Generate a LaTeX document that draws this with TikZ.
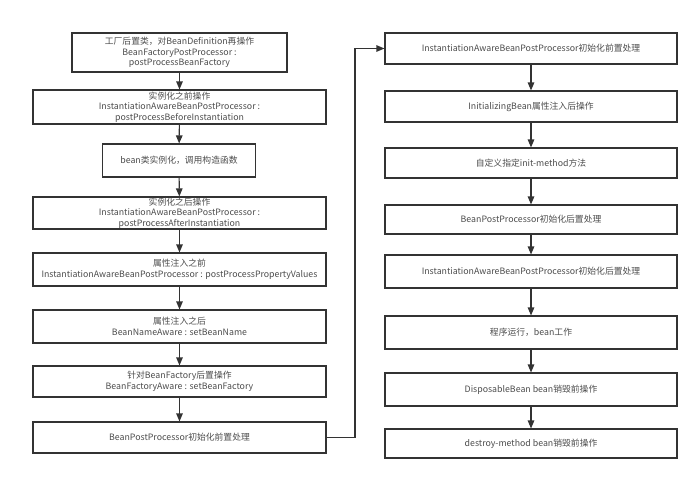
\documentclass[tikz,border=0pt]{standalone}
\usepackage{fontspec}
\newfontfamily\cjk{Noto Sans CJK SC}
\usetikzlibrary{arrows.meta}
\tikzset{
  box/.style={draw=black!80, line width=1.1pt, fill=white, align=center, inner sep=0pt,
    font=\cjk\fontsize{8.8}{10.5}\selectfont, text=black!70, minimum width=292pt},
  arr/.style={draw=black!80, line width=1.1pt, -{Triangle[length=8pt,width=6.5pt]}}
}
\begin{document}
\begin{tikzpicture}[x=1pt,y=-1pt]
\useasboundingbox (0,0) rectangle (700,480);
% left column
\node[box, minimum width=215pt, minimum height=39pt] (a1) at (179.5,52.5) {工厂后置类，对BeanDefinition再操作\\BeanFactoryPostProcessor :\\postProcessBeanFactory};
\node[box, minimum width=293pt, minimum height=34pt] (a2) at (179.5,107) {实例化之前操作\\InstantiationAwareBeanPostProcessor :\\postProcessBeforeInstantiation};
\node[box, minimum width=153pt, minimum height=33pt] (a3) at (179,160.5) {bean类实例化，调用构造函数};
\node[box, minimum width=293pt, minimum height=32pt] (a4) at (179.5,213) {实例化之后操作\\InstantiationAwareBeanPostProcessor :\\postProcessAfterInstantiation};
\node[box, minimum width=293pt, minimum height=33pt] (a5) at (179.5,269.5) {属性注入之前\\InstantiationAwareBeanPostProcessor : postProcessPropertyValues};
\node[box, minimum width=293pt, minimum height=33pt] (a6) at (179.5,326.5) {属性注入之后\\BeanNameAware : setBeanName};
\node[box, minimum width=293pt, minimum height=31pt] (a7) at (179.5,381.5) {针对BeanFactory后置操作\\BeanFactoryAware : setBeanFactory};
\node[box, minimum width=293pt, minimum height=31pt] (a8) at (179.5,437.5) {BeanPostProcessor初始化前置处理};
% right column
\node[box, minimum height=31pt] (b1) at (531,48.5) {InstantiationAwareBeanPostProcessor初始化前置处理};
\node[box, minimum height=31pt] (b2) at (531,106.5) {InitializingBean属性注入后操作};
\node[box, minimum height=30pt] (b3) at (531,163) {自定义指定init-method方法};
\node[box, minimum height=29pt] (b4) at (531,219.5) {BeanPostProcessor初始化后置处理};
\node[box, minimum height=33pt] (b5) at (531,271.5) {InstantiationAwareBeanPostProcessor初始化后置处理};
\node[box, minimum height=33pt] (b6) at (531,332.5) {程序运行，bean工作};
\node[box, minimum height=33pt] (b7) at (531,389.5) {DisposableBean bean销毁前操作};
\node[box, minimum height=29pt] (b8) at (531,443.5) {destroy-method bean销毁前操作};
% connectors
\draw[arr] (a1) -- (a2);
\draw[arr] (a2) -- (a3);
\draw[arr] (a3) -- (a4);
\draw[arr] (a4) -- (a5);
\draw[arr] (a5) -- (a6);
\draw[arr] (a6) -- (a7);
\draw[arr] (a7) -- (a8);
\coordinate (turn) at (355,437.5);
\draw[arr] (a8.east) -- (turn) |- (b1.west);
\draw[arr] (b1) -- (b2);
\draw[arr] (b2) -- (b3);
\draw[arr] (b3) -- (b4);
\draw[arr] (b4) -- (b5);
\draw[arr] (b5) -- (b6);
\draw[arr] (b6) -- (b7);
\draw[arr] (b7) -- (b8);
\end{tikzpicture}
\end{document}
